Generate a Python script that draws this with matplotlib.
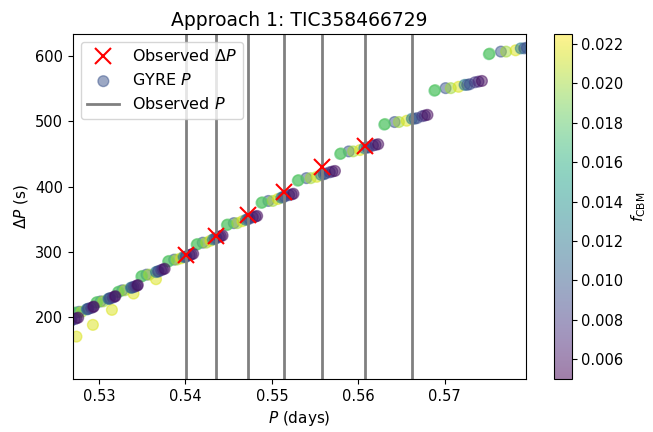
import numpy as np
import matplotlib
matplotlib.use('Agg')
import matplotlib.pyplot as plt

# observed periods (days) and period spacings (s)
obs_P = [0.5401, 0.5435, 0.5473, 0.5514, 0.5558, 0.5608, 0.5662]
obs_dP = [295, 325, 357, 391, 430, 462]

# GYRE models, one list per f_CBM value
f_cbm = [0.0095, 0.0175, 0.0180, 0.0200, 0.0215, 0.0125, 0.0100,
         0.0090, 0.0080, 0.0070, 0.0055]
gyre_P = [
    [0.5256, 0.5277, 0.5302, 0.5327, 0.5355, 0.5387, 0.5420, 0.5456, 0.5496, 0.5540, 0.5589, 0.5642, 0.5701, 0.5765],
    [0.5251, 0.5272, 0.5297, 0.5322, 0.5349, 0.5380, 0.5413, 0.5448, 0.5488, 0.5530, 0.5579, 0.5630, 0.5688, 0.5751],
    [0.5252, 0.5273, 0.5298, 0.5323, 0.5350, 0.5381, 0.5414, 0.5449, 0.5489, 0.5531, 0.5580, 0.5631, 0.5689, 0.5752],
    [0.5258, 0.5280, 0.5305, 0.5330, 0.5358, 0.5390, 0.5424, 0.5460, 0.5501, 0.5545, 0.5594, 0.5647, 0.5707, 0.5771],
    [0.5274, 0.5293, 0.5315, 0.5340, 0.5366, 0.5395, 0.5429, 0.5466, 0.5507, 0.5552, 0.5602, 0.5656, 0.5716, 0.5782],
    [0.5265, 0.5286, 0.5311, 0.5337, 0.5366, 0.5398, 0.5432, 0.5470, 0.5511, 0.5557, 0.5607, 0.5662, 0.5723, 0.5788],
    [0.5267, 0.5287, 0.5312, 0.5338, 0.5368, 0.5400, 0.5434, 0.5472, 0.5513, 0.5560, 0.5610, 0.5665, 0.5726, 0.5792],
    [0.5268, 0.5288, 0.5313, 0.5340, 0.5369, 0.5401, 0.5436, 0.5474, 0.5515, 0.5562, 0.5612, 0.5668, 0.5729, 0.5795],
    [0.5272, 0.5291, 0.5316, 0.5342, 0.5372, 0.5405, 0.5439, 0.5478, 0.5520, 0.5567, 0.5617, 0.5674, 0.5735, 0.5802],
    [0.5274, 0.5293, 0.5318, 0.5344, 0.5374, 0.5407, 0.5441, 0.5481, 0.5523, 0.5570, 0.5620, 0.5677, 0.5739, 0.5806],
    [0.5276, 0.5294, 0.5319, 0.5345, 0.5376, 0.5409, 0.5443, 0.5483, 0.5525, 0.5573, 0.5623, 0.5680, 0.5743, 0.5810],
]
gyre_dP = [
    [190, 208, 224, 241, 265, 288, 314, 344, 378, 413, 454, 499, 551, 607],
    [188, 206, 222, 238, 262, 285, 311, 341, 375, 409, 450, 495, 547, 603],
    [189, 207, 223, 239, 263, 286, 312, 342, 376, 410, 451, 496, 548, 604],
    [190, 208, 224, 241, 265, 288, 314, 344, 378, 413, 454, 499, 551, 607],
    [170, 188, 211, 236, 258, 290, 317, 347, 381, 415, 456, 501, 553, 609],
    [194, 212, 228, 245, 269, 292, 319, 349, 383, 418, 459, 504, 556, 612],
    [194, 212, 228, 245, 270, 292, 320, 350, 384, 419, 460, 504, 556, 612],
    [195, 213, 229, 246, 270, 293, 321, 351, 385, 420, 460, 505, 557, 613],
    [197, 214, 230, 247, 272, 295, 323, 353, 387, 422, 463, 508, 560, 616],
    [198, 215, 231, 248, 273, 296, 324, 354, 388, 423, 464, 509, 561, 617],
    [199, 216, 232, 249, 274, 297, 325, 355, 389, 424, 465, 510, 562, 618],
]

P_all = np.concatenate(gyre_P)
dP_all = np.concatenate(gyre_dP)
f_all = np.concatenate([[f] * len(p) for f, p in zip(f_cbm, gyre_P)])

fig = plt.figure(figsize=(6.53, 4.32), dpi=100)
ax = fig.add_axes([73 / 653, 53 / 432, 453 / 653, 345 / 432])
cax = fig.add_axes([554 / 653, 53 / 432, 17.5 / 653, 345 / 432])

ax.plot(obs_P[:-1], obs_dP, 'x', color='red', ms=12, mew=1.5,
        label=r'Observed $\Delta P$', zorder=3)
sc = ax.scatter(P_all, dP_all, c=f_all, cmap='viridis', vmin=0.005, vmax=0.0225,
                s=60, alpha=0.5, label='GYRE $P$', zorder=1)
for i, p in enumerate(obs_P):
    ax.axvline(p, color='grey', lw=2, label='Observed $P$' if i == 0 else None, zorder=2)

ax.set_xlim(0.527, 0.5794)
ax.set_ylim(105, 634)
ax.set_xticks([0.53, 0.54, 0.55, 0.56, 0.57])
ax.set_yticks([200, 300, 400, 500, 600])
ax.tick_params(labelsize=10.5)
ax.set_xlabel('$P$ (days)', fontsize=11)
ax.set_ylabel(r'$\Delta P$ (s)', fontsize=11)
ax.set_title('Approach 1: TIC358466729', fontsize=13.5)
ax.legend(loc='upper left', fontsize=11.5)

cb = fig.colorbar(sc, cax=cax)
cb.set_ticks([0.006, 0.008, 0.010, 0.012, 0.014, 0.016, 0.018, 0.020, 0.022])
cb.ax.tick_params(labelsize=10.5)
cb.set_label(r'$f_{\rm CBM}$', fontsize=11)

fig.savefig('out.png', dpi=100)
